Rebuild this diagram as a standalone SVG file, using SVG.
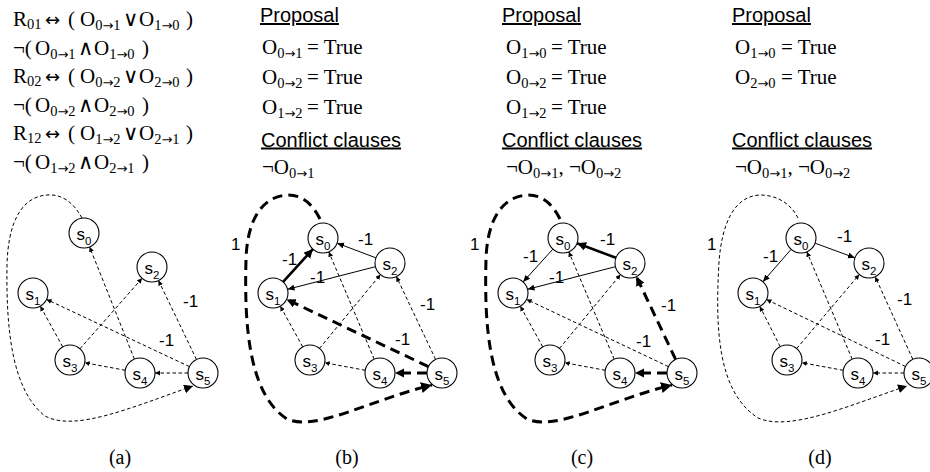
<svg xmlns="http://www.w3.org/2000/svg" width="930" height="472" viewBox="0 0 930 472">
  <style>
    .f { font-family: "Liberation Serif", "DejaVu Serif", serif; font-size: 21px; fill: #000; }
    .sb { font-size: 14.5px; }
    .ar { font-family: "DejaVu Sans", sans-serif; font-size: 13px; }
    .dar { font-family: "DejaVu Sans", sans-serif; font-size: 18px; }
    .op { font-family: "DejaVu Sans", sans-serif; font-size: 21px; }
    .h { font-family: "Liberation Sans", Arial, sans-serif; font-size: 20px; text-decoration: underline; fill: #000; }
    .lb { font-family: "Liberation Sans", Arial, sans-serif; font-size: 17px; fill: #000; }
    .cap { font-family: "Liberation Serif", "DejaVu Serif", serif; font-size: 20px; text-anchor: middle; fill: #000; }
    .nd circle { fill: #fff; stroke: #000; stroke-width: 1.1; }
    .nd text { font-family: "Liberation Sans", Arial, sans-serif; font-size: 17px; text-anchor: middle; fill: #000; }
    .nd tspan { font-size: 11.5px; }
    .dt { fill: none; stroke: #000; stroke-width: 1; stroke-dasharray: 3.5 2.5; marker-end: url(#ah-t); }
    .sl { fill: none; stroke: #000; stroke-width: 1; marker-end: url(#ah-m); }
    .sk { fill: none; stroke: #000; stroke-width: 2.6; marker-end: url(#ah-b); }
    .dk { fill: none; stroke: #000; stroke-width: 3; stroke-dasharray: 10 6; marker-end: url(#ah-b); }
    .lp-thin { fill: none; stroke: #000; stroke-width: 1; stroke-dasharray: 3.5 2.5; marker-end: url(#ah-b); }
    .lp-thick { fill: none; stroke: #000; stroke-width: 3; stroke-dasharray: 10 6; marker-end: url(#ah-L); }
  </style>
  <defs>
    <marker id="ah-t" markerUnits="userSpaceOnUse" markerWidth="6" markerHeight="6" refX="5" refY="2.5" orient="auto">
      <path d="M0,0 L5,2.5 L0,5 z" fill="#000"/>
    </marker>
    <marker id="ah-m" markerUnits="userSpaceOnUse" markerWidth="8" markerHeight="8" refX="7" refY="3" orient="auto">
      <path d="M0,0 L7,3 L0,6 z" fill="#000"/>
    </marker>
    <marker id="ah-b" markerUnits="userSpaceOnUse" markerWidth="10" markerHeight="10" refX="9" refY="4.5" orient="auto">
      <path d="M0,0 L9,4.5 L0,9 z" fill="#000"/>
    </marker>
    <marker id="ah-L" markerUnits="userSpaceOnUse" markerWidth="12" markerHeight="12" refX="11" refY="5.5" orient="auto">
      <path d="M0,0 L11,5.5 L0,11 z" fill="#000"/>
    </marker>
  </defs>

  <!-- encoding clauses -->
  <g id="clauses">
    <text class="f" y="26"><tspan x="13">R</tspan><tspan class="sb" dy="3">01</tspan><tspan class="dar" x="45" dy="-3">↔</tspan><tspan x="68">(</tspan><tspan x="80">O</tspan><tspan class="sb" dy="4">0<tspan class="ar">→</tspan>1</tspan><tspan class="op" x="123" dy="-4">∨</tspan><tspan x="139">O</tspan><tspan class="sb" dy="4">1<tspan class="ar">→</tspan>0</tspan><tspan x="186" dy="-4">)</tspan></text>
    <text class="f" y="54.5"><tspan x="13">¬(</tspan><tspan x="35">O</tspan><tspan class="sb" dy="4">0<tspan class="ar">→</tspan>1</tspan><tspan class="op" x="78" dy="-4">∧</tspan><tspan x="94">O</tspan><tspan class="sb" dy="4">1<tspan class="ar">→</tspan>0</tspan><tspan x="142" dy="-4">)</tspan></text>
    <text class="f" y="83"><tspan x="13">R</tspan><tspan class="sb" dy="3">02</tspan><tspan class="dar" x="45" dy="-3">↔</tspan><tspan x="68">(</tspan><tspan x="80">O</tspan><tspan class="sb" dy="4">0<tspan class="ar">→</tspan>2</tspan><tspan class="op" x="123" dy="-4">∨</tspan><tspan x="139">O</tspan><tspan class="sb" dy="4">2<tspan class="ar">→</tspan>0</tspan><tspan x="186" dy="-4">)</tspan></text>
    <text class="f" y="111.5"><tspan x="13">¬(</tspan><tspan x="35">O</tspan><tspan class="sb" dy="4">0<tspan class="ar">→</tspan>2</tspan><tspan class="op" x="78" dy="-4">∧</tspan><tspan x="94">O</tspan><tspan class="sb" dy="4">2<tspan class="ar">→</tspan>0</tspan><tspan x="142" dy="-4">)</tspan></text>
    <text class="f" y="140"><tspan x="13">R</tspan><tspan class="sb" dy="3">12</tspan><tspan class="dar" x="45" dy="-3">↔</tspan><tspan x="68">(</tspan><tspan x="80">O</tspan><tspan class="sb" dy="4">1<tspan class="ar">→</tspan>2</tspan><tspan class="op" x="123" dy="-4">∨</tspan><tspan x="139">O</tspan><tspan class="sb" dy="4">2<tspan class="ar">→</tspan>1</tspan><tspan x="186" dy="-4">)</tspan></text>
    <text class="f" y="168.5"><tspan x="13">¬(</tspan><tspan x="35">O</tspan><tspan class="sb" dy="4">1<tspan class="ar">→</tspan>2</tspan><tspan class="op" x="78" dy="-4">∧</tspan><tspan x="94">O</tspan><tspan class="sb" dy="4">2<tspan class="ar">→</tspan>1</tspan><tspan x="142" dy="-4">)</tspan></text>
  </g>

  <!-- proposal / conflict text, panel b -->
  <g id="text-b">
    <text class="h" x="260" y="22">Proposal</text>
    <text class="f" y="53.5"><tspan x="262">O</tspan><tspan class="sb" dy="4">0<tspan class="ar">→</tspan>1</tspan><tspan x="307" dy="-4">= True</tspan></text>
    <text class="f" y="83.5"><tspan x="262">O</tspan><tspan class="sb" dy="4">0<tspan class="ar">→</tspan>2</tspan><tspan x="307" dy="-4">= True</tspan></text>
    <text class="f" y="113.5"><tspan x="262">O</tspan><tspan class="sb" dy="4">1<tspan class="ar">→</tspan>2</tspan><tspan x="307" dy="-4">= True</tspan></text>
    <text class="h" x="261" y="146.5">Conflict clauses</text>
    <text class="f" y="173.5"><tspan x="262">¬O</tspan><tspan class="sb" dy="4">0<tspan class="ar">→</tspan>1</tspan></text>
  </g>

  <!-- proposal / conflict text, panel c -->
  <g id="text-c">
    <text class="h" x="502" y="22">Proposal</text>
    <text class="f" y="53.5"><tspan x="506">O</tspan><tspan class="sb" dy="4">1<tspan class="ar">→</tspan>0</tspan><tspan x="551" dy="-4">= True</tspan></text>
    <text class="f" y="83.5"><tspan x="506">O</tspan><tspan class="sb" dy="4">0<tspan class="ar">→</tspan>2</tspan><tspan x="551" dy="-4">= True</tspan></text>
    <text class="f" y="113.5"><tspan x="506">O</tspan><tspan class="sb" dy="4">1<tspan class="ar">→</tspan>2</tspan><tspan x="551" dy="-4">= True</tspan></text>
    <text class="h" x="502" y="146.5">Conflict clauses</text>
    <text class="f" y="173.5"><tspan x="506">¬O</tspan><tspan class="sb" dy="4">0<tspan class="ar">→</tspan>1</tspan><tspan dy="-4">, ¬O</tspan><tspan class="sb" dy="4">0<tspan class="ar">→</tspan>2</tspan></text>
  </g>

  <!-- proposal / conflict text, panel d -->
  <g id="text-d">
    <text class="h" x="732" y="22">Proposal</text>
    <text class="f" y="53.5"><tspan x="735">O</tspan><tspan class="sb" dy="4">1<tspan class="ar">→</tspan>0</tspan><tspan x="781" dy="-4">= True</tspan></text>
    <text class="f" y="83.5"><tspan x="735">O</tspan><tspan class="sb" dy="4">2<tspan class="ar">→</tspan>0</tspan><tspan x="781" dy="-4">= True</tspan></text>
    <text class="h" x="732" y="146.5">Conflict clauses</text>
    <text class="f" y="173.5"><tspan x="735">¬O</tspan><tspan class="sb" dy="4">0<tspan class="ar">→</tspan>1</tspan><tspan dy="-4">, ¬O</tspan><tspan class="sb" dy="4">0<tspan class="ar">→</tspan>2</tspan></text>
  </g>

  <!-- connectors -->
  <g id="connectors">
    <!-- panel a -->
    <path class="lp-thin" d="M82,218 C72,200 60,194 47,195 C20,197 8,225 7,265 C6,330 12,390 45,416 C75,432 130,408 193,386"/>
    <line class="dt" x1="134.4" y1="359.1" x2="89.6" y2="246.9"/>
    <line class="dt" x1="79.9" y1="348.8" x2="142.1" y2="278.3"/>
    <line class="dt" x1="62.7" y1="346.9" x2="40.3" y2="306.1"/>
    <line class="dt" x1="189.4" y1="366.6" x2="46.6" y2="299.4"/>
    <line class="dt" x1="196.5" y1="359.5" x2="158.5" y2="280.5"/>
    <line class="dt" x1="125.3" y1="370.3" x2="84.7" y2="362.7"/>
    <line class="dt" x1="188" y1="373" x2="155" y2="373"/>

    <!-- panel b -->
    <path class="lp-thick" d="M320,219 C311,201 300,195 288,195 C262,196 247,220 246,260 C244,330 250,395 287,419 C315,432 370,400 432,385"/>
    <line class="sk" x1="283.1" y1="281.9" x2="312.9" y2="249.1"/>
    <line class="sl" x1="375.9" y1="257.8" x2="337.1" y2="243.2"/>
    <line class="sl" x1="375.5" y1="266.7" x2="287.5" y2="289.3"/>
    <line class="dt" x1="374.2" y1="359.2" x2="328.8" y2="251.8"/>
    <line class="dt" x1="319.5" y1="348.4" x2="380.5" y2="274.6"/>
    <line class="dt" x1="302.7" y1="346.9" x2="280.3" y2="306.1"/>
    <line class="dt" x1="435.6" y1="359.4" x2="396.4" y2="276.6"/>
    <line class="dk" x1="428.4" y1="366.6" x2="286.6" y2="299.4"/>
    <line class="dt" x1="365.3" y1="370.3" x2="324.7" y2="362.7"/>
    <line class="dk" x1="427" y1="373" x2="395" y2="373"/>

    <!-- panel c -->
    <path class="lp-thick" d="M560,219 C551,201 540,195 528,195 C502,196 487,220 486,260 C484,330 490,395 527,419 C555,432 610,400 672,385"/>
    <line class="sl" x1="552.9" y1="249.1" x2="523.1" y2="281.9"/>
    <line class="sk" x1="615.9" y1="257.8" x2="577.1" y2="243.2"/>
    <line class="sl" x1="615.5" y1="266.7" x2="527.5" y2="289.3"/>
    <line class="dt" x1="614.2" y1="359.2" x2="568.8" y2="251.8"/>
    <line class="dt" x1="559.5" y1="348.4" x2="620.5" y2="274.6"/>
    <line class="dt" x1="542.7" y1="346.9" x2="520.3" y2="306.1"/>
    <line class="dk" x1="675.6" y1="359.4" x2="636.4" y2="276.6"/>
    <line class="dt" x1="668.4" y1="366.6" x2="526.6" y2="299.4"/>
    <line class="dt" x1="605.3" y1="370.3" x2="564.7" y2="362.7"/>
    <line class="dk" x1="667" y1="373" x2="635" y2="373"/>

    <!-- panel d -->
    <path class="lp-thin" d="M798,218 C790,202 775,195 760,195 C735,196 722,222 719,262 C715,330 718,392 758,418 C790,432 850,405 907,386"/>
    <line class="sl" x1="791.1" y1="249.3" x2="762.9" y2="281.7"/>
    <line class="sl" x1="815.1" y1="243.2" x2="854.9" y2="257.8"/>
    <line class="dt" x1="852.2" y1="359.2" x2="806.8" y2="251.8"/>
    <line class="dt" x1="796.7" y1="348.5" x2="859.3" y2="274.5"/>
    <line class="dt" x1="780.2" y1="346.6" x2="759.8" y2="306.4"/>
    <line class="dt" x1="912.8" y1="359.3" x2="875.2" y2="276.7"/>
    <line class="dt" x1="905.5" y1="366.5" x2="766.5" y2="299.5"/>
    <line class="dt" x1="843.2" y1="370.3" x2="801.8" y2="362.7"/>
    <line class="dt" x1="904" y1="373" x2="873" y2="373"/>
  </g>

  <!-- edge weights -->
  <g id="weights">
    <text class="lb" x="183" y="307">-1</text>
    <text class="lb" x="159" y="346">-1</text>

    <text class="lb" x="231" y="250">1</text>
    <text class="lb" x="282" y="265">-1</text>
    <text class="lb" x="358" y="245">-1</text>
    <text class="lb" x="310" y="283">-1</text>
    <text class="lb" x="420" y="310">-1</text>
    <text class="lb" x="395" y="345">-1</text>

    <text class="lb" x="470" y="250">1</text>
    <text class="lb" x="523" y="262">-1</text>
    <text class="lb" x="600" y="245">-1</text>
    <text class="lb" x="549" y="283">-1</text>
    <text class="lb" x="661" y="311">-1</text>
    <text class="lb" x="636" y="347">-1</text>

    <text class="lb" x="707" y="250">1</text>
    <text class="lb" x="763" y="262">-1</text>
    <text class="lb" x="837" y="242">-1</text>
    <text class="lb" x="897" y="305">-1</text>
    <text class="lb" x="875" y="345">-1</text>
  </g>

  <!-- panel a nodes -->
  <g id="a-s0" class="nd"><circle cx="84" cy="233" r="15"/><text x="84" y="240">s<tspan dy="5">0</tspan></text></g>
  <g id="a-s1" class="nd"><circle cx="33" cy="293" r="15"/><text x="33" y="300">s<tspan dy="5">1</tspan></text></g>
  <g id="a-s2" class="nd"><circle cx="152" cy="267" r="15"/><text x="152" y="274">s<tspan dy="5">2</tspan></text></g>
  <g id="a-s3" class="nd"><circle cx="70" cy="360" r="15"/><text x="70" y="367">s<tspan dy="5">3</tspan></text></g>
  <g id="a-s4" class="nd"><circle cx="140" cy="373" r="15"/><text x="140" y="380">s<tspan dy="5">4</tspan></text></g>
  <g id="a-s5" class="nd"><circle cx="203" cy="373" r="15"/><text x="203" y="380">s<tspan dy="5">5</tspan></text></g>

  <!-- panel b nodes -->
  <g id="b-s0" class="nd"><circle cx="323" cy="238" r="15"/><text x="323" y="245">s<tspan dy="5">0</tspan></text></g>
  <g id="b-s1" class="nd"><circle cx="273" cy="293" r="15"/><text x="273" y="300">s<tspan dy="5">1</tspan></text></g>
  <g id="b-s2" class="nd"><circle cx="390" cy="263" r="15"/><text x="390" y="270">s<tspan dy="5">2</tspan></text></g>
  <g id="b-s3" class="nd"><circle cx="310" cy="360" r="15"/><text x="310" y="367">s<tspan dy="5">3</tspan></text></g>
  <g id="b-s4" class="nd"><circle cx="380" cy="373" r="15"/><text x="380" y="380">s<tspan dy="5">4</tspan></text></g>
  <g id="b-s5" class="nd"><circle cx="442" cy="373" r="15"/><text x="442" y="380">s<tspan dy="5">5</tspan></text></g>

  <!-- panel c nodes -->
  <g id="c-s0" class="nd"><circle cx="563" cy="238" r="15"/><text x="563" y="245">s<tspan dy="5">0</tspan></text></g>
  <g id="c-s1" class="nd"><circle cx="513" cy="293" r="15"/><text x="513" y="300">s<tspan dy="5">1</tspan></text></g>
  <g id="c-s2" class="nd"><circle cx="630" cy="263" r="15"/><text x="630" y="270">s<tspan dy="5">2</tspan></text></g>
  <g id="c-s3" class="nd"><circle cx="550" cy="360" r="15"/><text x="550" y="367">s<tspan dy="5">3</tspan></text></g>
  <g id="c-s4" class="nd"><circle cx="620" cy="373" r="15"/><text x="620" y="380">s<tspan dy="5">4</tspan></text></g>
  <g id="c-s5" class="nd"><circle cx="682" cy="373" r="15"/><text x="682" y="380">s<tspan dy="5">5</tspan></text></g>

  <!-- panel d nodes -->
  <g id="d-s0" class="nd"><circle cx="801" cy="238" r="15"/><text x="801" y="245">s<tspan dy="5">0</tspan></text></g>
  <g id="d-s1" class="nd"><circle cx="753" cy="293" r="15"/><text x="753" y="300">s<tspan dy="5">1</tspan></text></g>
  <g id="d-s2" class="nd"><circle cx="869" cy="263" r="15"/><text x="869" y="270">s<tspan dy="5">2</tspan></text></g>
  <g id="d-s3" class="nd"><circle cx="787" cy="360" r="15"/><text x="787" y="367">s<tspan dy="5">3</tspan></text></g>
  <g id="d-s4" class="nd"><circle cx="858" cy="373" r="15"/><text x="858" y="380">s<tspan dy="5">4</tspan></text></g>
  <g id="d-s5" class="nd"><circle cx="919" cy="373" r="15"/><text x="919" y="380">s<tspan dy="5">5</tspan></text></g>

  <!-- panel captions -->
  <g id="captions">
    <text class="cap" x="120" y="464">(a)</text>
    <text class="cap" x="347" y="464">(b)</text>
    <text class="cap" x="582" y="464">(c)</text>
    <text class="cap" x="820" y="464">(d)</text>
  </g>
</svg>
